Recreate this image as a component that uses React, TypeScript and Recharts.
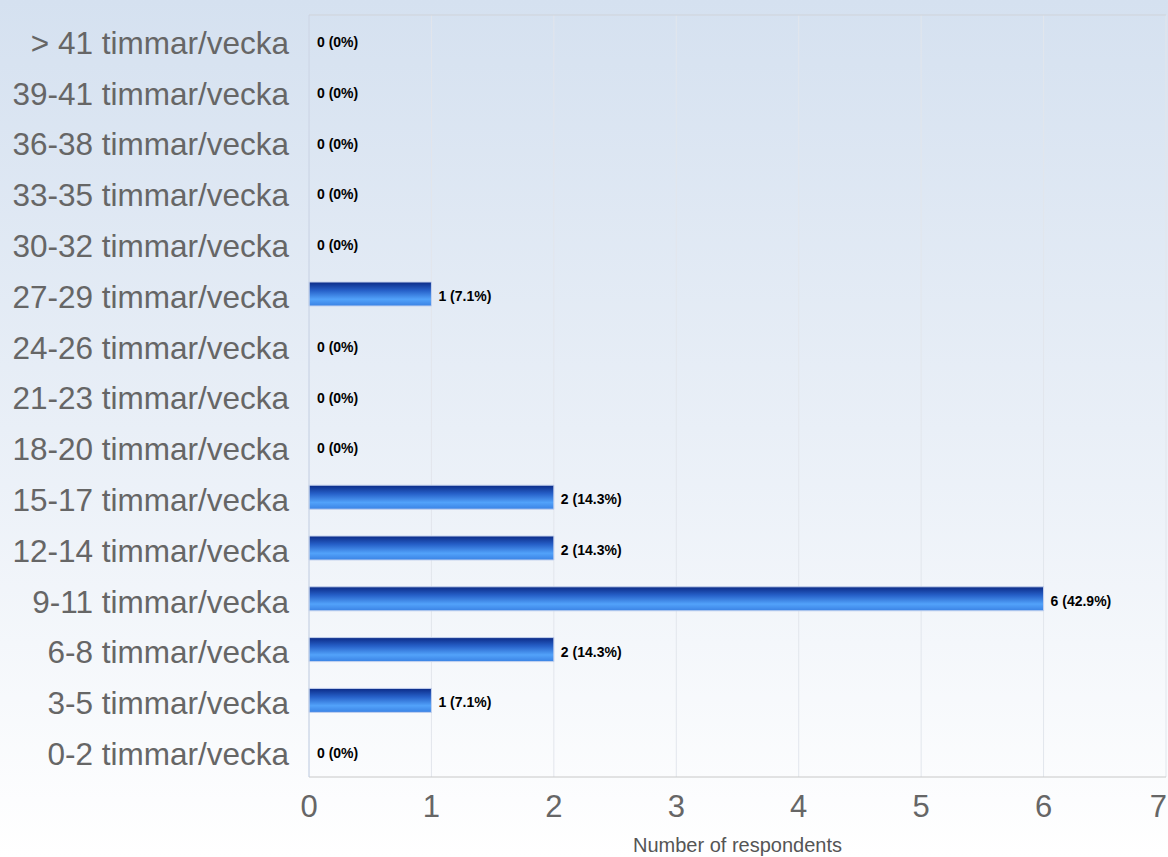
import React from 'react';
import { BarChart, Bar, XAxis, YAxis, CartesianGrid, LabelList, Rectangle } from 'recharts';

const categories = [
  '> 41 timmar/vecka',
  '39-41 timmar/vecka',
  '36-38 timmar/vecka',
  '33-35 timmar/vecka',
  '30-32 timmar/vecka',
  '27-29 timmar/vecka',
  '24-26 timmar/vecka',
  '21-23 timmar/vecka',
  '18-20 timmar/vecka',
  '15-17 timmar/vecka',
  '12-14 timmar/vecka',
  '9-11 timmar/vecka',
  '6-8 timmar/vecka',
  '3-5 timmar/vecka',
  '0-2 timmar/vecka',
];
const counts = [0, 0, 0, 0, 0, 1, 0, 0, 0, 2, 2, 6, 2, 1, 0];
const percents = ['0%', '0%', '0%', '0%', '0%', '7.1%', '0%', '0%', '0%', '14.3%', '14.3%', '42.9%', '14.3%', '7.1%', '0%'];
const xTicks = [0, 1, 2, 3, 4, 5, 6, 7];

const data = categories.map((name, i) => ({
  name,
  value: counts[i],
  label: `${counts[i]} (${percents[i]})`,
}));

const FONT = '"Liberation Sans", Arial, sans-serif';

const XTick = (props: any) => {
  const { x, y, payload } = props;
  const last = payload.value === xTicks[xTicks.length - 1];
  return (
    <text
      x={last ? x + 1 : x}
      y={y}
      dy="0.71em"
      textAnchor={last ? 'end' : 'middle'}
      fill="#666"
      fontSize={31}
      fontFamily={FONT}
    >
      {payload.value}
    </text>
  );
};

const YTick = (props: any) => {
  const { x, y, payload } = props;
  return (
    <text x={x} y={y + 2} dy="0.36em" textAnchor="end" fill="#666" fontSize={31.5} fontFamily={FONT}>
      {payload.value}
    </text>
  );
};

const BarShape = (props: any) => {
  const v = props.payload ? props.payload.value : 0;
  if (!v) return <g />;
  return <Rectangle {...props} />;
};

const BarLabel = (props: any) => {
  const { x, y, width, height, value } = props;
  return (
    <text
      x={x + width + 7}
      y={y + height / 2 + 2}
      dominantBaseline="central"
      fill="#000"
      fontSize={14}
      fontWeight="bold"
      fontFamily={FONT}
    >
      {value}
    </text>
  );
};

export default function App() {
  return (
    <div
      style={{
        position: 'absolute',
        left: 0,
        top: 0,
        width: 1168,
        height: 857,
        background: 'linear-gradient(to bottom, #d5e1f0 0%, #e9eff7 50%, #ffffff 100%)',
        fontFamily: FONT,
      }}
    >
      <BarChart
        width={1168}
        height={857}
        data={data}
        layout="vertical"
        margin={{ top: 15, right: 2, left: 0, bottom: 0 }}
        barCategoryGap={0}
      >
        <defs>
          <linearGradient id="barGrad" x1="0" y1="0" x2="0" y2="1">
            <stop offset="0%" stopColor="#0b2a86" />
            <stop offset="35%" stopColor="#2660c8" />
            <stop offset="72%" stopColor="#52a2fa" />
            <stop offset="100%" stopColor="#3a82e4" />
          </linearGradient>
        </defs>
        <CartesianGrid horizontal={false} stroke="#e2e6ec" />
        <CartesianGrid
          vertical={false}
          stroke="#cfd3d9"
          horizontalCoordinatesGenerator={(p: any) => [p.offset.top]}
        />
        <XAxis
          type="number"
          domain={[0, 7]}
          ticks={xTicks}
          interval={0}
          tickLine={false}
          tickSize={0}
          tickMargin={18}
          height={80}
          axisLine={{ stroke: '#c8c8c8' }}
          tick={<XTick />}
          label={{
            value: 'Number of respondents',
            position: 'insideBottom',
            offset: 5,
            fill: '#555',
            fontSize: 20,
            fontFamily: FONT,
          }}
        />
        <YAxis
          type="category"
          dataKey="name"
          width={309}
          tickLine={false}
          tickSize={0}
          tickMargin={20}
          interval={0}
          axisLine={{ stroke: '#c6d2e6' }}
          tick={<YTick />}
        />
        <Bar
          dataKey="value"
          fill="url(#barGrad)"
          stroke="#c4d2ee"
          strokeWidth={1}
          barSize={24}
          minPointSize={1}
          shape={<BarShape />}
          isAnimationActive={false}
        >
          <LabelList dataKey="label" content={<BarLabel />} />
        </Bar>
      </BarChart>
    </div>
  );
}
